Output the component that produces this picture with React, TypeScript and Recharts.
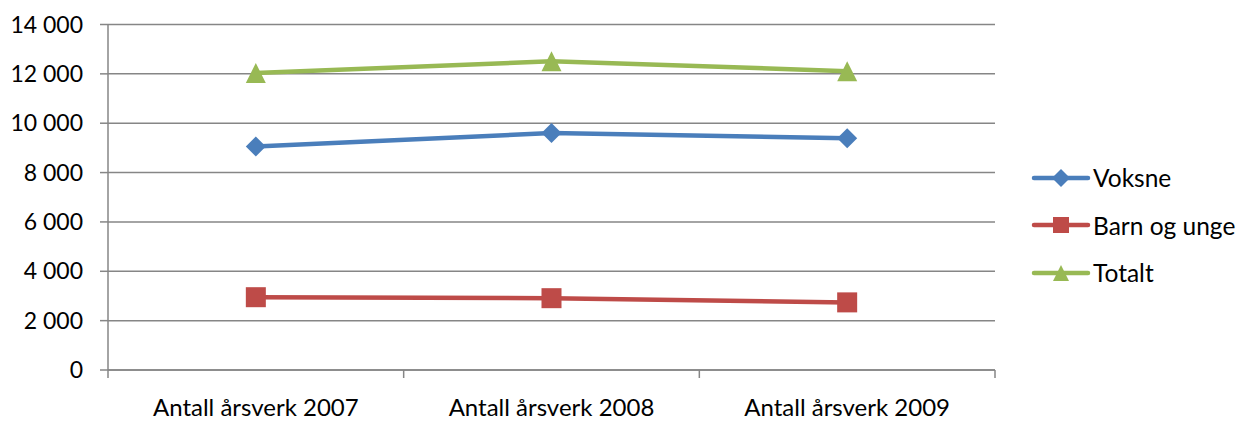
import React from 'react';
import { LineChart, Line, XAxis, YAxis, CartesianGrid, Legend } from 'recharts';

const categories = ['Antall årsverk 2007', 'Antall årsverk 2008', 'Antall årsverk 2009'];
const voksne = [9060, 9600, 9390];
const barnOgUnge = [2950, 2910, 2740];
const totalt = [12030, 12510, 12110];
const yTicks = [0, 2000, 4000, 6000, 8000, 10000, 12000, 14000];

const series = [
  { key: 'voksne', name: 'Voksne', color: '#4A7EBB', shape: 'diamond' },
  { key: 'barn', name: 'Barn og unge', color: '#BE4B48', shape: 'square' },
  { key: 'totalt', name: 'Totalt', color: '#98B954', shape: 'triangle' },
];

const data = categories.map((c, i) => ({
  cat: c,
  voksne: voksne[i],
  barn: barnOgUnge[i],
  totalt: totalt[i],
}));

const FONT = 'Lato, "Open Sans", sans-serif';
const GRID = '#868686';
const TICK_SIZE = 8;
const TICK_MARGIN = 21;

function Marker({ shape, cx, cy, color, s = 10 }: any) {
  if (cx == null || cy == null) return null;
  if (shape === 'diamond') {
    return <polygon points={`${cx},${cy - s} ${cx + s},${cy} ${cx},${cy + s} ${cx - s},${cy}`} fill={color} />;
  }
  if (shape === 'square') {
    return <rect x={cx - s} y={cy - s} width={2 * s} height={2 * s} fill={color} />;
  }
  return <polygon points={`${cx},${cy - s} ${cx + s},${cy + s} ${cx - s},${cy + s}`} fill={color} />;
}

const makeDot = (shape: string, color: string) => (props: any) => (
  <Marker key={`${shape}-${props.index}`} shape={shape} cx={props.cx} cy={props.cy} color={color} />
);

const fmt = (v: number) => String(v).replace(/\B(?=(\d{3})+(?!\d))/g, ' ');

function CatTick(props: any) {
  const { x, y, payload, index, visibleTicksCount, width } = props;
  const bw = (width || 887) / (visibleTicksCount || 3);
  const axisY = y - TICK_SIZE - TICK_MARGIN;
  const left = x - bw / 2;
  const right = x + bw / 2;
  return (
    <g>
      <line x1={left} y1={axisY} x2={left} y2={axisY + TICK_SIZE} stroke={GRID} strokeWidth={1.5} />
      {index === visibleTicksCount - 1 && (
        <line x1={right} y1={axisY} x2={right} y2={axisY + TICK_SIZE} stroke={GRID} strokeWidth={1.5} />
      )}
      <text x={x} y={y} dy="0.71em" textAnchor="middle" fontFamily={FONT} fontSize={24} fill="#000">
        {payload.value}
      </text>
    </g>
  );
}

function LegendContent() {
  return (
    <div style={{ fontFamily: FONT, fontSize: 24.5, color: '#000' }}>
      {series.map((s) => (
        <div key={s.key} style={{ display: 'flex', alignItems: 'center', height: 47.5 }}>
          <svg width={60} height={24} style={{ display: 'block' }}>
            <line x1={3} y1={12} x2={57} y2={12} stroke={s.color} strokeWidth={4.5} strokeLinecap="round" />
            <Marker shape={s.shape} cx={30} cy={12} color={s.color} s={s.shape === 'diamond' ? 9 : 8} />
          </svg>
          <span style={{ marginLeft: 2, whiteSpace: 'nowrap' }}>{s.name}</span>
        </div>
      ))}
    </div>
  );
}

export default function App() {
  return (
    <div style={{ position: 'absolute', left: 0, top: 0 }}>
      <LineChart
        width={1238}
        height={421}
        data={data}
        margin={{ top: 24.5, right: 243, bottom: 0, left: 0 }}
      >
        <CartesianGrid horizontal vertical={false} stroke={GRID} strokeWidth={1.5} />
        <XAxis
          dataKey="cat"
          type="category"
          scale="band"
          height={51}
          axisLine={{ stroke: GRID, strokeWidth: 1.5 }}
          tickLine={false}
          tickSize={TICK_SIZE}
          tickMargin={TICK_MARGIN}
          interval={0}
          tick={<CatTick />}
        />
        <YAxis
          width={108}
          domain={[0, 14000]}
          ticks={yTicks}
          tickFormatter={fmt}
          axisLine={{ stroke: GRID, strokeWidth: 1.5 }}
          tickLine={{ stroke: GRID, strokeWidth: 1.5 }}
          tickSize={8}
          tickMargin={17}
          tick={{ fontFamily: FONT, fontSize: 23, fill: '#000' }}
        />
        <Legend
          layout="vertical"
          align="center"
          verticalAlign="middle"
          content={<LegendContent />}
          wrapperStyle={{ left: 1031, top: 154, width: 207 }}
        />
        {series.map((s) => (
          <Line
            key={s.key}
            dataKey={s.key}
            name={s.name}
            stroke={s.color}
            strokeWidth={4.5}
            dot={makeDot(s.shape, s.color)}
            activeDot={false}
            isAnimationActive={false}
          />
        ))}
      </LineChart>
    </div>
  );
}
